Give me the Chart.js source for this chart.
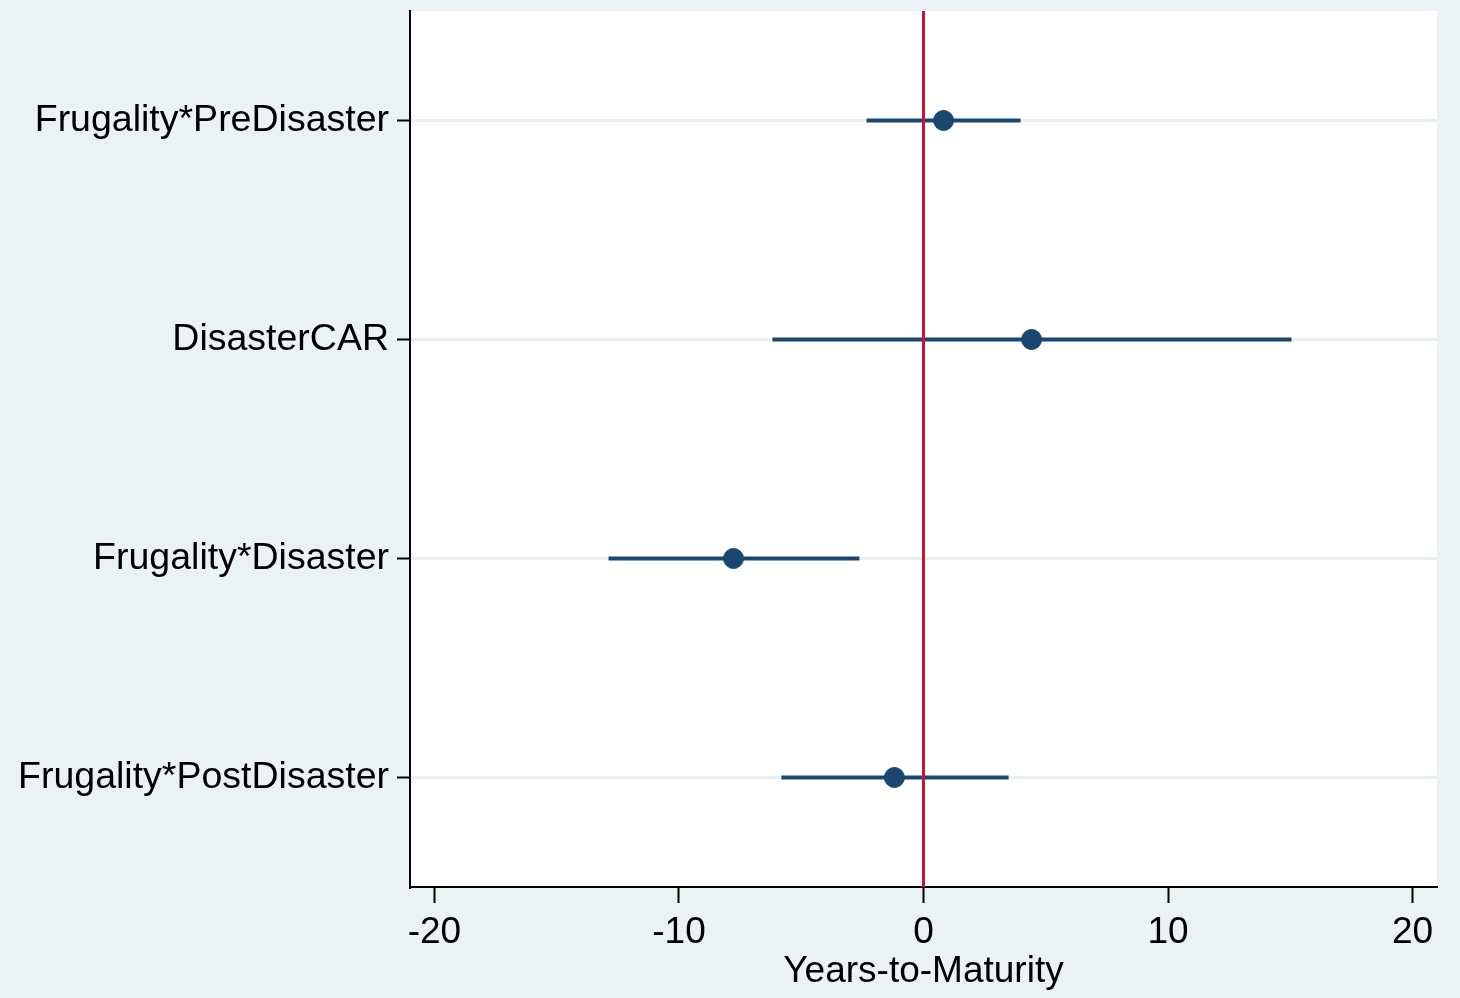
<!DOCTYPE html>
<html lang="en">
<head>
    <meta charset="UTF-8">
    <title>Coefficient plot: Years-to-Maturity</title>
    <style>
        html, body {
            margin: 0;
            padding: 0;
            background-color: #eaf2f3;
        }
        #wrap {
            width: 1460px;
            height: 998px;
        }
    </style>
    <script src="https://cdn.jsdelivr.net/npm/chart.js"></script>
</head>
<body>
    <div id="wrap"><canvas id="coefChart" width="1460" height="998"></canvas></div>

    <script>
        // values
        const terms = ["Frugality*PreDisaster", "DisasterCAR", "Frugality*Disaster", "Frugality*PostDisaster"];
        const estimates = [0.82, 4.42, -7.77, -1.19];
        const ciLower = [-2.33, -6.18, -12.88, -5.81];
        const ciUpper = [3.97, 15.05, -2.62, 3.48];
        const xTicks = [-20, -10, 0, 10, 20];
        const xTitle = "Years-to-Maturity";

        const navy = '#1a476f';
        const red = '#d10f3b';
        const font = '"Liberation Sans", Arial, sans-serif';

        const ciSets = terms.map((t, i) => ({
            type: 'line',
            label: t + ' CI',
            data: [{ x: ciLower[i], y: i + 1 }, { x: ciUpper[i], y: i + 1 }],
            borderColor: navy,
            borderWidth: 4,
            pointRadius: 0,
            order: 3
        }));

        const zeroLine = {
            type: 'line',
            label: 'zero',
            data: [{ x: 0, y: 0.5 }, { x: 0, y: 4.5 }],
            borderColor: red,
            borderWidth: 3,
            pointRadius: 0,
            order: 2
        };

        const points = {
            type: 'scatter',
            label: 'estimate',
            data: estimates.map((v, i) => ({ x: v, y: i + 1 })),
            backgroundColor: navy,
            borderColor: navy,
            pointRadius: 10,
            order: 1
        };

        const plotBg = {
            id: 'plotBg',
            beforeDraw(chart) {
                const { ctx, chartArea: a } = chart;
                ctx.save();
                ctx.fillStyle = '#eaf2f3';
                ctx.fillRect(0, 0, chart.width, chart.height);
                ctx.fillStyle = '#ffffff';
                ctx.fillRect(a.left, a.top, a.right - a.left, a.bottom - a.top);
                ctx.restore();
            }
        };

        new Chart(document.getElementById('coefChart'), {
            type: 'scatter',
            data: { datasets: [...ciSets, zeroLine, points] },
            options: {
                responsive: false,
                animation: false,
                layout: { padding: { top: 10, right: 23, bottom: 4, left: 0 } },
                plugins: {
                    legend: { display: false },
                    tooltip: { enabled: false }
                },
                scales: {
                    x: {
                        type: 'linear',
                        min: -21,
                        max: 21,
                        afterBuildTicks: s => { s.ticks = xTicks.map(v => ({ value: v })); },
                        afterFit: s => {
                            s.height = 998 - 887 - 4;
                            s.paddingLeft = 0;
                            s.paddingRight = 0;
                        },
                        grid: {
                            drawOnChartArea: false,
                            tickLength: 16,
                            tickColor: '#000',
                            tickWidth: 2
                        },
                        border: { color: '#000', width: 2 },
                        ticks: {
                            color: '#000',
                            padding: 8,
                            maxRotation: 0,
                            font: { family: font, size: 37 }
                        },
                        title: {
                            display: true,
                            text: xTitle,
                            color: '#000',
                            padding: 0,
                            font: { family: font, size: 37 }
                        }
                    },
                    y: {
                        type: 'linear',
                        min: 0.5,
                        max: 4.5,
                        reverse: true,
                        afterBuildTicks: s => { s.ticks = terms.map((t, i) => ({ value: i + 1 })); },
                        afterFit: s => {
                            s.width = 410;
                            s.paddingTop = 0;
                            s.paddingBottom = 0;
                        },
                        grid: {
                            color: '#e8f0f1',
                            lineWidth: 3,
                            tickLength: 13,
                            tickColor: '#000',
                            tickWidth: 2
                        },
                        border: { color: '#000', width: 2 },
                        ticks: {
                            color: '#000',
                            padding: 8,
                            font: { family: font, size: 37.5 },
                            callback: v => terms[v - 1]
                        }
                    }
                }
            },
            plugins: [plotBg]
        });
    </script>
</body>
</html>
